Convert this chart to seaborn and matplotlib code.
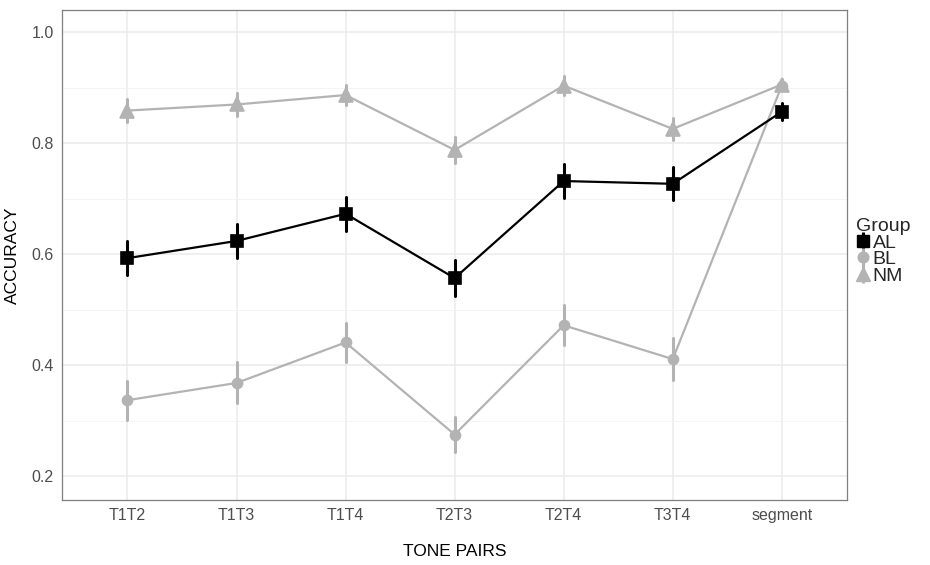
import numpy as np
import pandas as pd
import matplotlib.pyplot as plt
import seaborn as sns
from matplotlib.lines import Line2D
from matplotlib.ticker import MultipleLocator

# data: mean accuracy and half error bar per tone pair
pairs = ['T1T2', 'T1T3', 'T1T4', 'T2T3', 'T2T4', 'T3T4', 'segment']
groups = ['AL', 'BL', 'NM']
al_mean = [0.593, 0.624, 0.673, 0.557, 0.732, 0.727, 0.857]
al_err = [0.031, 0.031, 0.031, 0.032, 0.030, 0.030, 0.015]
bl_mean = [0.337, 0.368, 0.441, 0.275, 0.472, 0.411, 0.904]
bl_err = [0.035, 0.037, 0.036, 0.032, 0.036, 0.038, 0.008]
nm_mean = [0.859, 0.870, 0.887, 0.788, 0.904, 0.826, 0.906]
nm_err = [0.020, 0.020, 0.018, 0.023, 0.017, 0.020, 0.010]

# two rows per cell (mean -/+ err) so the pointplot mean is the mean
# and the min-max interval is the error bar
rows = []
for g, m, e in zip(groups, [al_mean, bl_mean, nm_mean], [al_err, bl_err, nm_err]):
    for p, mv, ev in zip(pairs, m, e):
        rows.append((g, p, mv - ev))
        rows.append((g, p, mv + ev))
df = pd.DataFrame(rows, columns=['Group', 'pair', 'acc'])

sns.set_style('white')
plt.rcParams['font.family'] = ['Liberation Sans', 'DejaVu Sans']

grey = '#b3b3b3'
pal = {'AL': 'black', 'BL': grey, 'NM': grey}
marks = {'AL': 's', 'BL': 'o', 'NM': '^'}
msize = {'AL': 8.2, 'BL': 7.2, 'NM': 9.6}

fig = plt.figure(figsize=(9.3, 5.65), dpi=100)
ax = fig.add_axes([0.0667, 0.115, 0.8443, 0.867])

# grey groups first so black sits on top, NM triangle over BL at segment
for z, g in zip([3, 4, 5], ['BL', 'NM', 'AL']):
    n0 = len(ax.lines)
    sns.pointplot(data=df[df['Group'] == g], x='pair', y='acc', order=pairs,
                  color=pal[g], marker=marks[g], markersize=msize[g],
                  linewidth=1.6, err_kws={'linewidth': 2.2},
                  errorbar=lambda x: (x.min(), x.max()), ax=ax)
    for ln in ax.lines[n0:]:
        ln.set_zorder(z)

ax.set_xlim(-0.6, 6.6)
ax.set_ylim(0.157, 1.04)
ax.yaxis.set_major_locator(MultipleLocator(0.2))
ax.yaxis.set_minor_locator(MultipleLocator(0.1))
ax.set_yticks([0.2, 0.4, 0.6, 0.8, 1.0])
ax.set_yticklabels(['0.2', '0.4', '0.6', '0.8', '1.0'])
ax.grid(True, which='major', color='#ebebeb', linewidth=1.1, zorder=0)
ax.grid(True, which='minor', axis='y', color='#f2f2f2', linewidth=0.6, zorder=0)
ax.set_axisbelow(True)

for s in ax.spines.values():
    s.set_color('#7f7f7f')
    s.set_linewidth(0.9)

ax.tick_params(axis='both', which='major', length=3, width=0.8, color='#555555',
               labelsize=11.5, labelcolor='#4d4d4d', pad=3)
ax.tick_params(axis='both', which='minor', length=0)

ax.set_xlabel('TONE PAIRS', fontsize=12.5, color='black', labelpad=15)
ax.set_ylabel('ACCURACY', fontsize=12.5, color='black', labelpad=8)

# pointrange-style keys: marker with a vertical bar through it
handles = []
for g in groups:
    pt = Line2D([], [], color=pal[g], marker=marks[g], markersize=msize[g] + 0.5,
                linestyle='')
    bar = Line2D([], [], color=pal[g], marker='|', markersize=13,
                 markeredgewidth=2.2, linestyle='')
    handles.append((bar, pt))
leg = fig.legend(handles, groups, title='Group', loc='center left',
                 bbox_to_anchor=(0.912, 0.555), frameon=False, fontsize=14,
                 title_fontsize=14, handlelength=0.7, handletextpad=0.15,
                 labelspacing=-0.05, borderaxespad=0)
leg._legend_box.align = 'left'

fig.savefig('out.png', dpi=100)
